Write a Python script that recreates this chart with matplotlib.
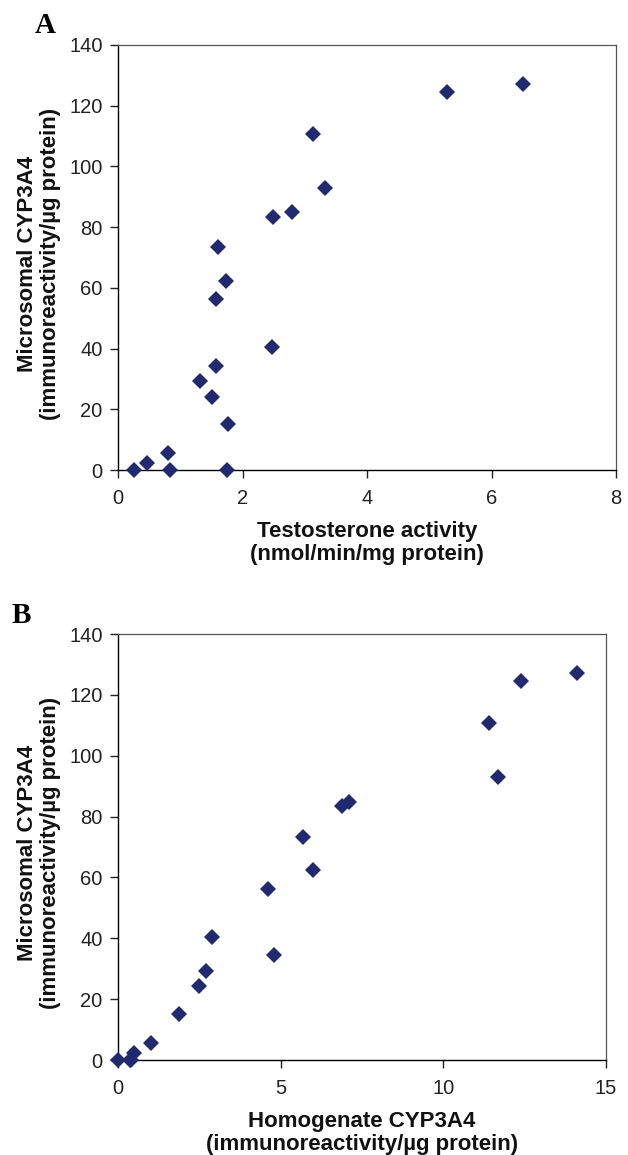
#!/usr/bin/env python3
"""Microsomal CYP3A4 vs testosterone activity (A) and homogenate CYP3A4 (B)."""

import matplotlib
matplotlib.use("Agg")
import matplotlib.pyplot as plt

# microsomal CYP3A4 (immunoreactivity/ug protein), shared by both panels
microsomal = [0, 0, 0, 2.2, 5.7, 15.2, 24.2, 29.4, 34.4, 40.5,
              56.2, 62.4, 73.4, 83.5, 84.9, 93.0, 110.6, 124.4, 127.2]
# panel A: testosterone activity (nmol/min/mg protein)
testosterone = [0.25, 0.83, 1.75, 0.46, 0.81, 1.77, 1.51, 1.31, 1.58, 2.47,
                1.57, 1.74, 1.61, 2.49, 2.80, 3.33, 3.13, 5.29, 6.51]
# panel B: homogenate CYP3A4 (immunoreactivity/ug protein)
homogenate = [0.0, 0.41, 0.38, 0.49, 1.0, 1.89, 2.48, 2.70, 4.79, 2.90,
              4.60, 5.99, 5.69, 6.90, 7.09, 11.69, 11.39, 12.39, 14.11]

x_ticks_a = [0, 2, 4, 6, 8]
x_ticks_b = [0, 5, 10, 15]
y_ticks = [0, 20, 40, 60, 80, 100, 120, 140]

MARKER_COLOR = "#222a6f"
LABEL_SIZE = 16
plt.rcParams["font.family"] = ["Liberation Sans", "DejaVu Sans"]

W, H = 628, 1155
fig = plt.figure(figsize=(W / 100, H / 100), dpi=100)


def add_panel(px, x, xticks, xlabel, letter, letter_xy):
    # px = (left, top, right, bottom) of the plot frame in figure pixels
    left, top, right, bottom = px
    w, h = right - left, bottom - top
    ax = fig.add_axes([left / W, 1 - bottom / H, w / W, h / H])

    ax.plot(x, microsomal, linestyle="none", marker="D", markersize=8,
            color=MARKER_COLOR, markeredgewidth=0, clip_on=False, zorder=3)
    ax.set_xlim(xticks[0], xticks[-1])
    ax.set_ylim(0, 140)
    ax.set_xticks(xticks)
    ax.set_yticks(y_ticks)
    ax.tick_params(direction="out", length=6, width=1, labelsize=14.5,
                   colors="#222222", pad=5)
    ax.tick_params(axis="x", pad=8)
    for side in ("left", "bottom"):
        ax.spines[side].set_color("black")
        ax.spines[side].set_linewidth(1.0)
    for side in ("top", "right"):
        ax.spines[side].set_color("#555555")
        ax.spines[side].set_linewidth(0.9)

    ax.set_xlabel(xlabel, fontsize=LABEL_SIZE, fontweight="bold",
                  linespacing=1.1, color="#111111")
    ax.xaxis.set_label_coords(0.5, -51 / h)
    ax.set_ylabel("Microsomal CYP3A4\n(immunoreactivity/\u00b5g protein)",
                  fontsize=LABEL_SIZE, fontweight="bold",
                  linespacing=1.15, color="#111111")
    ax.yaxis.set_label_coords(-(left - 61) / w, 0.5 - 6 / h)

    lx, ly = letter_xy
    ax.text((lx - left) / w, (bottom - ly) / h, letter,
            transform=ax.transAxes, fontsize=21, fontweight="bold",
            family="Liberation Serif", va="baseline", ha="left")
    return ax


add_panel((118, 45, 616, 470), testosterone, x_ticks_a,
          "Testosterone activity\n(nmol/min/mg protein)", "A", (35, 33))
add_panel((118, 634, 606, 1060), homogenate, x_ticks_b,
          "Homogenate CYP3A4\n(immunoreactivity/\u00b5g protein)", "B", (12, 623))

fig.savefig("out.png", dpi=100)
